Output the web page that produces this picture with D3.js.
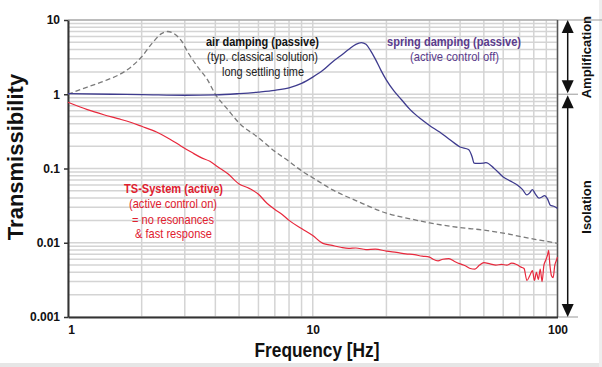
<!DOCTYPE html>
<html>
<head>
<meta charset="utf-8">
<script src="https://cdn.jsdelivr.net/npm/d3@7"></script>
<style>
  body { margin: 0; background: #fff; }
  svg { display: block; font-family: "Liberation Sans", Arial, sans-serif; }
</style>
</head>
<body>
<div id="chart"></div>
<script>
// Values (frequency in Hz, transmissibility)
const airFreq = [1, 1.2, 1.4, 1.6, 1.8, 2.0, 2.2, 2.4, 2.55, 2.7, 2.9, 3.1, 3.4, 3.7, 4.0, 4.5, 5, 6, 7, 8, 9, 10, 12, 15, 20, 25, 30, 40, 50, 60, 70, 80, 90, 100];
const airT = [1.0, 1.25, 1.5, 1.8, 2.3, 3.2, 4.8, 6.5, 7.0, 6.6, 5.3, 3.6, 2.3, 1.6, 1.0, 0.62, 0.41, 0.26, 0.17, 0.125, 0.093, 0.075, 0.052, 0.037, 0.025, 0.021, 0.0185, 0.016, 0.0148, 0.0135, 0.0122, 0.0112, 0.0105, 0.0098];

const springFreq = [1, 1.5, 2, 3, 4, 5, 6, 7, 8, 9, 10, 11, 12, 13, 14, 15, 15.8, 16.5, 17.2, 18, 19, 20, 21.5, 23, 25, 27.5, 30, 33, 36, 40, 43.3, 44.8, 45.6, 47, 49.8, 51, 55, 60, 64, 68.5, 72, 75, 77, 79, 81, 84, 86, 88.5, 91, 93.5, 96.5, 100];
const springT = [1.02, 1.0, 0.99, 0.97, 0.98, 1.02, 1.07, 1.13, 1.22, 1.4, 1.7, 2.1, 2.7, 3.3, 4.0, 4.7, 4.95, 4.7, 3.9, 3.0, 2.1, 1.55, 1.1, 0.85, 0.62, 0.47, 0.38, 0.31, 0.25, 0.195, 0.18, 0.143, 0.118, 0.117, 0.118, 0.12, 0.101, 0.077, 0.068, 0.06, 0.052, 0.044, 0.047, 0.052, 0.046, 0.04, 0.041, 0.043, 0.039, 0.032, 0.031, 0.029];

const tsFreq = [1, 1.2, 1.4, 1.6, 1.8, 2.0, 2.3, 2.6, 2.9, 3.2, 3.5, 3.8, 4.1, 4.5, 5, 5.5, 6, 6.5, 7, 7.5, 8, 9, 10, 11, 12, 13, 14, 15, 16.5, 18, 20, 22, 24, 26, 28, 30, 31, 32.5, 34, 36, 38, 40, 42, 44, 46, 48, 50, 53, 56, 59, 62, 65, 68, 71, 73, 75, 77, 79, 80.5, 82, 83.5, 85, 86.5, 88, 89.5, 91, 92, 93, 94.5, 96, 97.5, 99, 100];
const tsT = [0.78, 0.62, 0.53, 0.47, 0.42, 0.37, 0.31, 0.25, 0.2, 0.165, 0.14, 0.125, 0.105, 0.085, 0.062, 0.054, 0.045, 0.034, 0.028, 0.024, 0.02, 0.0155, 0.0125, 0.0098, 0.0092, 0.0087, 0.0084, 0.0085, 0.0081, 0.0082, 0.0077, 0.0074, 0.0071, 0.0069, 0.0066, 0.0064, 0.006, 0.0057, 0.006, 0.0061, 0.0056, 0.0052, 0.0049, 0.0045, 0.0044, 0.005, 0.0054, 0.0052, 0.005, 0.0051, 0.005, 0.0053, 0.0051, 0.0047, 0.0045, 0.0031, 0.0036, 0.0042, 0.0031, 0.004, 0.0032, 0.0044, 0.003, 0.005, 0.0058, 0.0068, 0.0079, 0.0052, 0.0036, 0.0034, 0.005, 0.0058, 0.0064];

const yTicks = [0.001, 0.01, 0.1, 1, 10];
const yTickLabels = ["0.001", "0.01", "0.1", "1", "10"];
const xTicks = [1, 10, 100];
const xTickLabels = ["1", "10", "100"];

// Layout
const W = 602, H = 367;
const margin = {top: 20, right: 44.5, bottom: 50, left: 68};
const x0 = margin.left, x1 = W - margin.right,
      y0 = H - margin.bottom, y1 = margin.top;

const svg = d3.select("#chart").append("svg")
    .attr("width", W)
    .attr("height", H);

// light frame at right / bottom edge
svg.append("rect").attr("x", 0).attr("y", 363).attr("width", W).attr("height", 4).attr("fill", "#e6e6e6");
svg.append("rect").attr("x", 599).attr("y", 0).attr("width", 3).attr("height", H).attr("fill", "#eeeeee");

const x = d3.scaleLog().domain([1, 100]).range([x0, x1]);
const y = d3.scaleLog().domain([0.001, 10]).range([y0, y1]);

// Grid
const grid = svg.append("g").attr("stroke", "#d4d4d4").attr("stroke-width", 1.5);
grid.selectAll("line.gy")
  .data(y.ticks())
  .join("line")
    .attr("x1", x0).attr("x2", x1)
    .attr("y1", d => y(d)).attr("y2", d => y(d));
grid.selectAll("line.gx")
  .data(x.ticks())
  .join("line")
    .attr("y1", y0).attr("y2", y1)
    .attr("x1", d => x(d)).attr("x2", d => x(d));

// frame lines
svg.append("line").attr("x1", x0).attr("x2", W).attr("y1", y(10)).attr("y2", y(10))
  .attr("stroke", "#9a9a9a").attr("stroke-width", 1.2);
svg.append("line").attr("x1", x1).attr("x2", 578).attr("y1", y(1)).attr("y2", y(1))
  .attr("stroke", "#aaa").attr("stroke-width", 1.2);
svg.append("line").attr("x1", x1).attr("x2", 578).attr("y1", y(0.001)).attr("y2", y(0.001))
  .attr("stroke", "#aaa").attr("stroke-width", 1.2);
svg.append("line").attr("x1", x1).attr("x2", x1).attr("y1", y1).attr("y2", y0)
  .attr("stroke", "#555").attr("stroke-width", 1.5);

// Axes
const yAxis = svg.append("g")
    .attr("transform", `translate(${x0},0)`)
    .call(d3.axisLeft(y).tickValues(yTicks).tickFormat((d, i) => yTickLabels[i]).tickSize(4).tickSizeOuter(0).tickPadding(4));
const xAxis = svg.append("g")
    .attr("transform", `translate(0,${y0})`)
    .call(d3.axisBottom(x).tickValues(xTicks).tickFormat((d, i) => xTickLabels[i]).tickSize(0).tickPadding(8));
[yAxis, xAxis].forEach(a => {
  a.select(".domain").attr("stroke", "#333").attr("stroke-width", 2);
  a.selectAll(".tick line").attr("stroke", "#333").attr("stroke-width", 1.5);
  a.selectAll(".tick text")
    .attr("fill", "#111")
    .style("font-family", '"Liberation Sans", Arial, sans-serif')
    .style("font-size", "12px")
    .style("font-weight", "bold");
});
xAxis.select(".tick:first-of-type text").attr("dx", 3);

// Curves
const line = d3.line()
    .x(d => x(d[0]))
    .y(d => y(d[1]))
    .curve(d3.curveMonotoneX);

svg.append("path")
    .datum(d3.zip(airFreq, airT))
    .attr("fill", "none")
    .attr("stroke", "#7a7a7a")
    .attr("stroke-width", 1.3)
    .attr("stroke-dasharray", "5,3")
    .attr("d", line);

svg.append("path")
    .datum(d3.zip(springFreq, springT))
    .attr("fill", "none")
    .attr("stroke", "#3e3b8e")
    .attr("stroke-width", 1.3)
    .attr("d", line);

svg.append("path")
    .datum(d3.zip(tsFreq, tsT))
    .attr("fill", "none")
    .attr("stroke", "#e8283c")
    .attr("stroke-width", 1.2)
    .attr("d", line);

// Annotations
function label(txt, cx, by, len, color, bold, size) {
  svg.append("text")
    .attr("x", cx).attr("y", by)
    .attr("text-anchor", "middle")
    .attr("textLength", len)
    .attr("lengthAdjust", "spacingAndGlyphs")
    .attr("fill", color)
    .style("font-size", (size || 13.5) + "px")
    .style("font-weight", bold ? "bold" : "normal")
    .text(txt);
}
label("air damping (passive)", 262.5, 46, 113, "#111", true);
label("(typ. classical solution)", 262.5, 61, 111, "#222", false);
label("long settling time", 263, 75.5, 82, "#222", false);

label("spring damping (passive)", 454, 46, 134, "#5a3b8c", true);
label("(active control off)", 454.5, 61, 89, "#5a3b8c", false);

label("TS-System (active)", 173.5, 193, 99, "#e0202f", true);
label("(active control on)", 173, 208, 88, "#e0202f", false);
label("= no resonances", 173, 223.5, 82, "#e0202f", false);
label("& fast response", 173.5, 238, 77, "#e0202f", false);

label("Frequency [Hz]", 317, 357, 125, "#111", true, 21);

svg.append("text")
    .attr("transform", `translate(23,157) rotate(-90)`)
    .attr("text-anchor", "middle")
    .attr("fill", "#111")
    .style("font-size", "22px")
    .style("font-weight", "bold")
    .text("Transmissibility");

// Amplification / Isolation arrows
const ax = 567.7;
function arrow(ya, yb) {
  svg.append("line").attr("x1", ax).attr("x2", ax).attr("y1", ya + 8).attr("y2", yb - 8)
    .attr("stroke", "#111").attr("stroke-width", 1.5);
  svg.append("path").attr("d", `M${ax},${ya} L${ax - 6},${ya + 13} L${ax + 6},${ya + 13} Z`).attr("fill", "#111");
  svg.append("path").attr("d", `M${ax},${yb} L${ax - 6},${yb - 13} L${ax + 6},${yb - 13} Z`).attr("fill", "#111");
}
arrow(y(10), y(1) - 1);
arrow(y(1) + 1, y(0.001));

svg.append("text")
    .attr("transform", `translate(591,${(y(10) + y(1)) / 2}) rotate(-90)`)
    .attr("text-anchor", "middle")
    .attr("fill", "#111")
    .style("font-size", "13px")
    .style("font-weight", "bold")
    .text("Amplification");
svg.append("text")
    .attr("transform", `translate(591,207) rotate(-90)`)
    .attr("text-anchor", "middle")
    .attr("fill", "#111")
    .style("font-size", "13px")
    .style("font-weight", "bold")
    .text("Isolation");
</script>
</body>
</html>
